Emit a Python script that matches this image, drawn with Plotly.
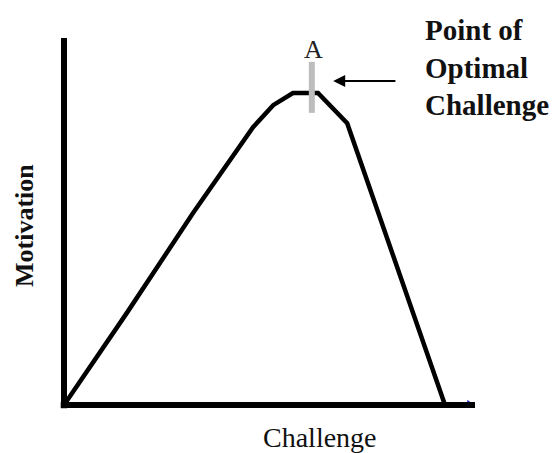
import plotly.graph_objects as go

# Curve (challenge 0-10, motivation 0-10)
challenge = [0.0, 1.53, 3.14, 3.97, 4.60, 5.09, 5.57, 5.99, 6.18, 6.89, 9.27]
motivation = [0.0, 2.51, 5.23, 6.59, 7.57, 8.17, 8.50, 8.50, 8.50, 7.68, 0.0]

# Optimal-challenge marker "A"
marker_x = [6.03, 6.03]
marker_y = [7.96, 9.35]

x_title = "Challenge"
y_title = "Motivation"
point_label = "A"
callout = "Point of<br>Optimal<br>Challenge"

X_MAX, Y_MAX = 10.0, 10.0
PX_X, PX_Y = 41.1, 36.7  # px per unit
PAGE_OFF = 8             # default body margin of the html page
W, H = 558 - PAGE_OFF, 453 - PAGE_OFF
X0, Y0 = 64 - PAGE_OFF, 405 - PAGE_OFF  # pixel of origin within the figure


def px_x(p):
    return (p - PAGE_OFF - X0) / PX_X


def px_y(p):
    return (Y0 - (p - PAGE_OFF)) / PX_Y


serif = "Liberation Serif, Times New Roman, serif"

fig = go.Figure()

# axes
fig.add_shape(type="line", x0=0, x1=0, y0=-0.09, y1=Y_MAX,
              line=dict(color="black", width=6), xref="x", yref="y")
fig.add_shape(type="line", x0=-0.08, x1=X_MAX, y0=0, y1=0,
              line=dict(color="black", width=6), xref="x", yref="y")

fig.add_trace(go.Scatter(x=challenge, y=motivation, mode="lines",
                         line=dict(color="black", width=4.5), hoverinfo="skip"))
fig.add_trace(go.Scatter(x=marker_x, y=marker_y, mode="lines",
                         line=dict(color="#bdbdbd", width=6), hoverinfo="skip"))
# tiny blue tip at x-axis end
fig.add_trace(go.Scatter(x=[9.85], y=[0.05], mode="markers",
                         marker=dict(symbol="triangle-right", size=6, color="#2323c8"),
                         hoverinfo="skip"))

fig.add_annotation(x=6.06, y=9.70, text=point_label, showarrow=False,
                   font=dict(family=serif, size=26, color="#222"))
fig.add_annotation(x=6.55, y=8.83, ax=8.10, ay=8.83, axref="x", ayref="y",
                   text="", showarrow=True, arrowhead=2, arrowsize=1.2,
                   arrowwidth=2, arrowcolor="black")
fig.add_annotation(x=px_x(423), y=px_y(67), text="<b>" + callout + "</b>",
                   showarrow=False, xanchor="left", yanchor="middle", align="left",
                   font=dict(family=serif, size=29, color="#111"))
fig.add_annotation(x=px_x(320), y=px_y(437), text=x_title,
                   showarrow=False, font=dict(family=serif, size=28, color="#111"))
fig.add_annotation(x=px_x(24), y=px_y(226), text="<b>" + y_title + "</b>",
                   textangle=-90, showarrow=False,
                   font=dict(family=serif, size=26, color="#111"))

fig.update_layout(
    width=W, height=H, margin=dict(l=0, r=0, t=0, b=0),
    paper_bgcolor="white", plot_bgcolor="white", showlegend=False,
    xaxis=dict(range=[-X0 / PX_X, (W - X0) / PX_X], visible=False, fixedrange=True),
    yaxis=dict(range=[(Y0 - H) / PX_Y, Y0 / PX_Y], visible=False, fixedrange=True),
)

fig.write_html("out.html")
